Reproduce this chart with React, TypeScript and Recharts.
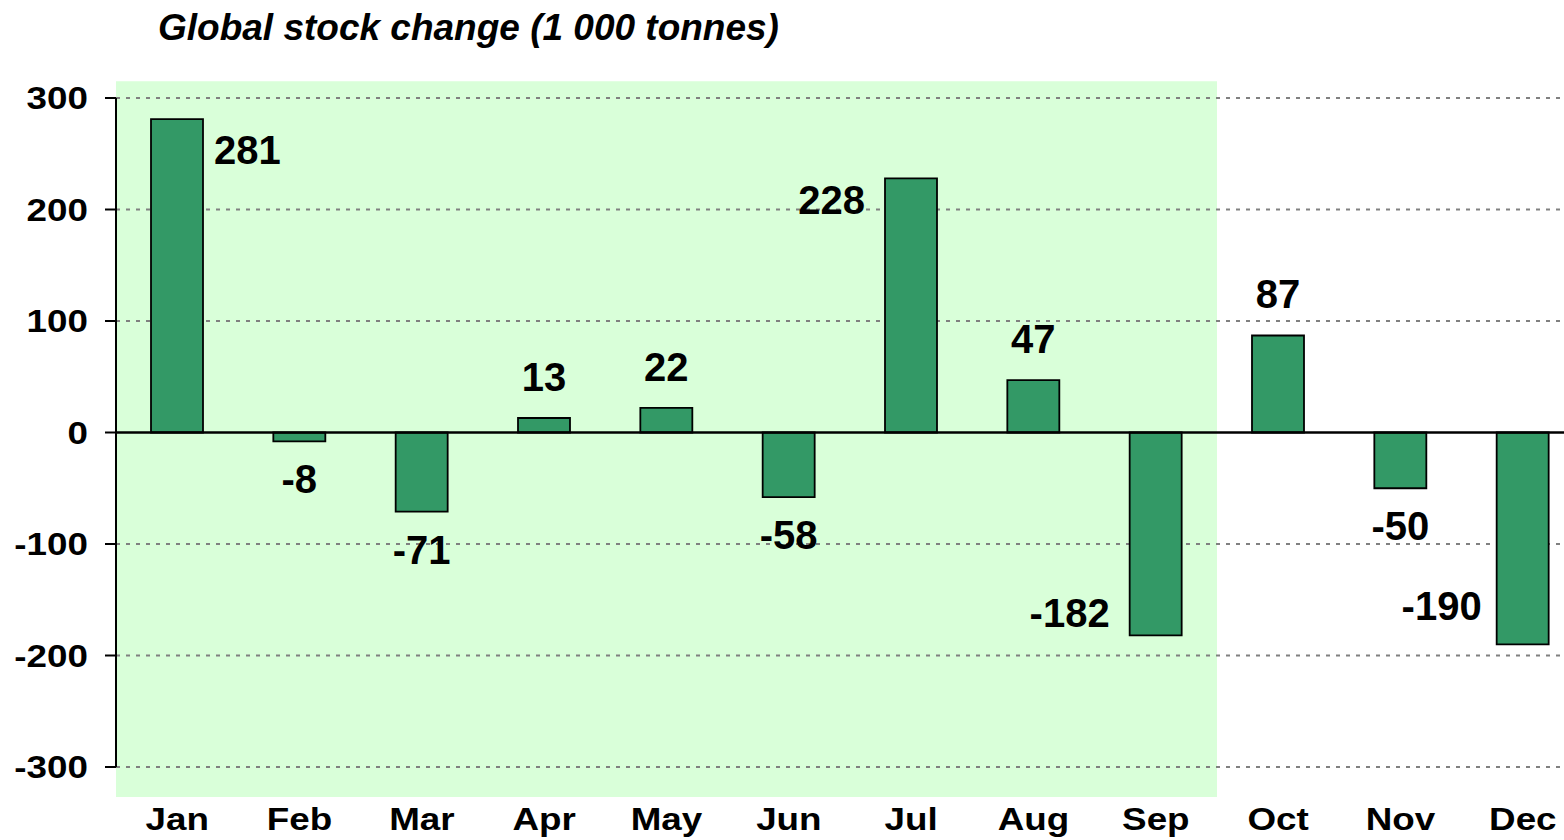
import React from "react";
import {
  BarChart,
  Bar,
  XAxis,
  YAxis,
  CartesianGrid,
  ReferenceArea,
  ReferenceLine,
  LabelList,
} from "recharts";

const months = ["Jan", "Feb", "Mar", "Apr", "May", "Jun", "Jul", "Aug", "Sep", "Oct", "Nov", "Dec"];
const stockChange = [281, -8, -71, 13, 22, -58, 228, 47, -182, 87, -50, -190];
const yTicks = [-300, -200, -100, 0, 100, 200, 300];
const gridTicks = [-300, -200, -100, 100, 200, 300];
const labelPlacement = ["right", "below", "below", "above", "above", "below", "left", "above", "left", "above", "below", "leftMid"];
const shadedFrom = "Jan";
const shadedTo = "Sep";
const title = "Global stock change (1 000 tonnes)";

const data = months.map((m, i) => ({ month: m, value: stockChange[i] }));

const FONT = "'Liberation Sans', Arial, sans-serif";
const STRETCH = 1.15;

const renderLabel = (props: any) => {
  const { x, y, width, height, value, index } = props;
  const top = Math.min(y, y + height);
  const bottom = Math.max(y, y + height);
  const cx = x + width / 2;
  const place = labelPlacement[index];
  const positive = value >= 0;
  let tx = cx;
  let ty = positive ? top - 41 : bottom + 38;
  let anchor: any = "middle";
  if (place === "right") {
    tx = x + width + 11;
    ty = positive ? top + 31 : bottom - 31;
    anchor = "start";
  } else if (place === "left") {
    tx = x - 20;
    ty = positive ? top + 22 : bottom - 22;
    anchor = "end";
  } else if (place === "leftMid") {
    tx = x - 15;
    ty = positive ? top + 38 : bottom - 38;
    anchor = "end";
  }
  return (
    <text
      x={tx}
      y={ty}
      textAnchor={anchor}
      dominantBaseline="central"
      fontFamily={FONT}
      fontWeight="bold"
      fontSize={40}
      fill="#000"
    >
      {value}
    </text>
  );
};

const YTick = (props: any) => {
  const { x, y, payload } = props;
  return (
    <g transform={`translate(${x},${y}) scale(${STRETCH},1)`}>
      <text
        x={0}
        y={0}
        textAnchor="end"
        dominantBaseline="central"
        fontFamily={FONT}
        fontWeight="bold"
        fontSize={32}
        fill="#000"
      >
        {payload.value}
      </text>
    </g>
  );
};

const XTick = (props: any) => {
  const { x, y, payload } = props;
  return (
    <g transform={`translate(${x},${y}) scale(${STRETCH},1)`}>
      <text
        x={0}
        y={0}
        dy="0.71em"
        textAnchor="middle"
        fontFamily={FONT}
        fontWeight="bold"
        fontSize={32}
        fill="#000"
      >
        {payload.value}
      </text>
    </g>
  );
};

export default function App() {
  return (
    <div
      style={{
        position: "absolute",
        left: 0,
        top: 0,
        width: 1564,
        height: 840,
        overflow: "hidden",
        background: "#fff",
      }}
    >
      <div
        style={{
          position: "absolute",
          left: 158,
          top: 8,
          fontFamily: FONT,
          fontWeight: "bold",
          fontStyle: "italic",
          fontSize: 37,
          lineHeight: "40px",
          color: "#000",
          whiteSpace: "nowrap",
        }}
      >
        {title}
      </div>
      <div style={{ position: "absolute", left: 0, top: 0 }}>
        <BarChart
          width={1600}
          height={840}
          data={data}
          margin={{ top: 98, right: 16, bottom: 0, left: 0 }}
          barCategoryGap={0}
        >
          <ReferenceArea
            x1={shadedFrom}
            x2={shadedTo}
            y1={-327}
            y2={315}
            fill="#d9ffd9"
            fillOpacity={1}
            stroke="none"
            ifOverflow="visible"
            zIndex={-150}
          />
          <CartesianGrid
            vertical={false}
            horizontalValues={gridTicks}
            stroke="#808080"
            strokeWidth={2}
            strokeDasharray="4 6"
          />
          <XAxis
            dataKey="month"
            axisLine={false}
            tickLine={false}
            tickSize={0}
            tickMargin={40}
            height={73}
            interval={0}
            tick={<XTick />}
          />
          <YAxis
            domain={[-300, 300]}
            ticks={yTicks}
            width={116}
            axisLine={{ stroke: "#000", strokeWidth: 2 }}
            tickLine={{ stroke: "#000", strokeWidth: 2 }}
            tickSize={11}
            tickMargin={17}
            interval={0}
            tick={<YTick />}
          />
          <Bar
            dataKey="value"
            barSize={52}
            fill="#339966"
            stroke="#000"
            strokeWidth={1.8}
            isAnimationActive={false}
          >
            <LabelList dataKey="value" content={renderLabel} />
          </Bar>
          <ReferenceLine y={0} stroke="#000" strokeWidth={2.5} ifOverflow="visible" />
        </BarChart>
      </div>
    </div>
  );
}
